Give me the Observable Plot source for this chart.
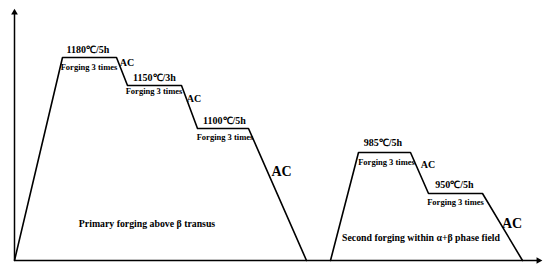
<!DOCTYPE html>
<html>
<head>
<meta charset="utf-8">
<script src="https://cdn.jsdelivr.net/npm/d3@7"></script>
<script src="https://cdn.jsdelivr.net/npm/@observablehq/plot@0.6"></script>
<style>
  html, body { margin: 0; padding: 0; background: #fff; }
  #chart svg { display: block; }
</style>
</head>
<body>
<div id="chart"></div>
<script>
// Time (abstract units) and temperature level (abstract units) of the forging schedule
const primaryTime = [0, 48, 102, 113, 167, 183, 234, 292];
const primaryLevel = [0, 203, 203, 175, 175, 132, 132, 0];
const secondTime = [316, 344, 396, 414, 468, 508];
const secondLevel = [0, 108, 108, 67, 67, 0];

// Temperature / hold labels
const tempLabels = ["1180℃/5h", "1150℃/3h", "1100℃/5h", "985℃/5h", "950℃/5h"];
const tempX = [73.5, 140, 210, 368.5, 440];
const tempY = [211, 183, 140, 118, 76];

const forgeLabels = ["Forging 3 times", "Forging 3 times", "Forging 3 times", "Forging 3 times", "Forging 3 times"];
const forgeX = [74.5, 139.5, 210.5, 372, 441];
const forgeY = [193, 169, 123, 98, 58];

const acSmallX = [112.5, 179.5, 413.5];
const acSmallY = [198, 162, 96];
const acLargeX = [267, 497.5];
const acLargeY = [89, 37];

const stageLabels = ["Primary forging above β transus", "Second forging within α+β phase field"];
const stageX = [132.5, 406.5];
const stageY = [37, 23];

const axisEnds = {xMax: 524, yMax: 248};

const primary = primaryTime.map((t, i) => ({t, v: primaryLevel[i]}));
const second = secondTime.map((t, i) => ({t, v: secondLevel[i]}));
const temps = tempLabels.map((s, i) => ({s, x: tempX[i], y: tempY[i]}));
const forges = forgeLabels.map((s, i) => ({s, x: forgeX[i], y: forgeY[i]}));
const acS = acSmallX.map((x, i) => ({s: "AC", x, y: acSmallY[i]}));
const acL = acLargeX.map((x, i) => ({s: "AC", x, y: acLargeY[i]}));
const stages = stageLabels.map((s, i) => ({s, x: stageX[i], y: stageY[i]}));
const axes = [
  {x1: 0, y1: 0, x2: axisEnds.xMax, y2: 0, rot: 90},
  {x1: 0, y1: 0, x2: 0, y2: axisEnds.yMax, rot: 0}
];

const font = "'Liberation Serif', 'Times New Roman', serif";
const txt = (data, size) => Plot.text(data, {
  x: "x", y: "y", text: "s", fontSize: size, fontWeight: "bold",
  fontFamily: font, textAnchor: "middle", lineAnchor: "middle", fill: "#000"
});

const chart = Plot.plot({
  width: 550,
  height: 271,
  marginLeft: 0, marginRight: 0, marginTop: 0, marginBottom: 11,
  x: {domain: [-14, 536], axis: null},
  y: {domain: [0, 260], axis: null},
  style: {background: "#fff"},
  marks: [
    Plot.link(axes, {x1: "x1", y1: "y1", x2: "x2", y2: "y2", stroke: "#000", strokeWidth: 1.5}),
    Plot.dot(axes, {x: "x2", y: "y2", symbol: "triangle2", rotate: "rot", r: 3.2, fill: "#000", stroke: "none"}),
    Plot.line(primary, {x: "t", y: "v", stroke: "#000", strokeWidth: 1.6}),
    Plot.line(second, {x: "t", y: "v", stroke: "#000", strokeWidth: 1.6}),
    txt(temps, 10),
    txt(forges, 8.5),
    txt(acS, 10),
    txt(acL, 14),
    txt(stages, 9.8)
  ]
});
document.getElementById("chart").appendChild(chart);
</script>
</body>
</html>
